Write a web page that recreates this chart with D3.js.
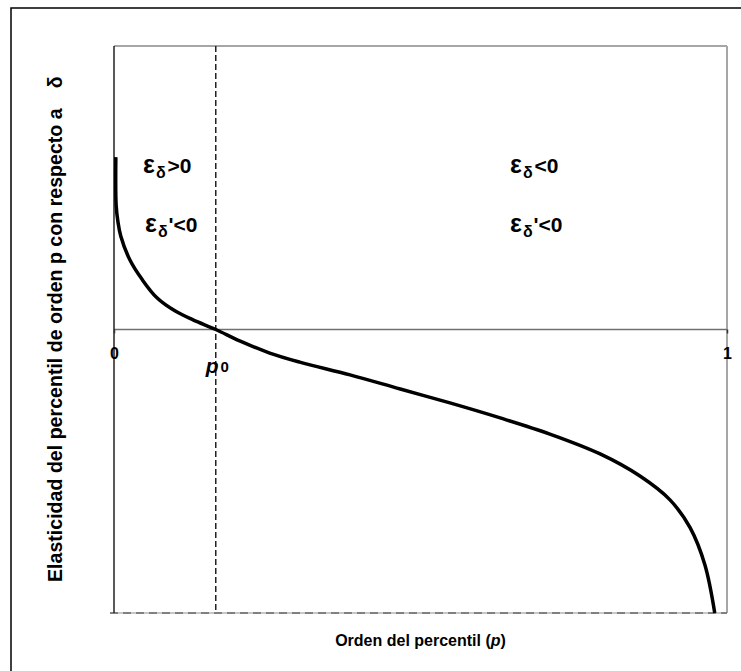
<!DOCTYPE html>
<html>
<head>
<meta charset="utf-8">
<script src="https://cdn.jsdelivr.net/npm/d3@7"></script>
<style>
  html, body { margin: 0; padding: 0; background: #fff; }
  svg { display: block; }
  text { font-family: "Liberation Sans", Arial, sans-serif; font-weight: bold; fill: #000; }
</style>
</head>
<body>
<svg id="chart" width="741" height="671"></svg>
<script>
// ---- data ----
const pValues = [0.003, 0.0035, 0.0065, 0.011, 0.026, 0.046, 0.070, 0.100, 0.129, 0.166,
                 0.206, 0.254, 0.303, 0.385, 0.467, 0.548, 0.630, 0.711, 0.793, 0.858,
                 0.907, 0.940, 0.964, 0.980];
const elasticity = [0.608, 0.439, 0.379, 0.330, 0.245, 0.176, 0.112, 0.065, 0.034, 0.0,
                    -0.041, -0.083, -0.115, -0.160, -0.210, -0.259, -0.312, -0.369, -0.439, -0.517,
                    -0.601, -0.700, -0.831, -1.0];
const p0 = 0.166;
const xTickValues = [0, 1];
const xTickLabels = ["0", "1"];
const yDomain = [-1, 1];

const svg = d3.select("#chart");
const mLeft = 114, mRight = 727, mTop = 46, mBottom = 613;

const x = d3.scaleLinear().domain([0, 1]).range([mLeft, mRight]);
const y = d3.scaleLinear().domain(yDomain).range([mBottom, mTop]);

// outer frame (right/bottom edges fall outside the window)
svg.append("rect").attr("x", 11).attr("y", 8).attr("width", 760).attr("height", 700)
  .attr("fill", "none").attr("stroke", "#000").attr("stroke-width", 1.5);

// plot area borders
svg.append("line").attr("x1", mLeft).attr("x2", mRight).attr("y1", mTop).attr("y2", mTop)
  .attr("stroke", "#a6a6a6").attr("stroke-width", 2);
svg.append("line").attr("x1", mRight).attr("x2", mRight).attr("y1", mTop).attr("y2", mBottom)
  .attr("stroke", "#a6a6a6").attr("stroke-width", 2);
// bottom dashed border
svg.append("line").attr("x1", mLeft - 4).attr("x2", mRight).attr("y1", mBottom).attr("y2", mBottom)
  .attr("stroke", "#c8c8c8").attr("stroke-width", 2);
svg.append("line").attr("x1", mLeft - 4).attr("x2", mRight).attr("y1", mBottom).attr("y2", mBottom)
  .attr("stroke", "#808080").attr("stroke-width", 2).attr("stroke-dasharray", "8,5");

// zero line
svg.append("line").attr("x1", mLeft).attr("x2", mRight).attr("y1", y(0)).attr("y2", y(0))
  .attr("stroke", "#707070").attr("stroke-width", 1.5);

// left axis line
svg.append("line").attr("x1", mLeft).attr("x2", mLeft).attr("y1", mTop).attr("y2", mBottom)
  .attr("stroke", "#222").attr("stroke-width", 1.5);

// p0 dashed line
svg.append("line").attr("x1", x(p0)).attr("x2", x(p0)).attr("y1", mTop).attr("y2", mBottom)
  .attr("stroke", "#222").attr("stroke-width", 1.5).attr("stroke-dasharray", "6,3");

// x axis tick labels via d3 axis
const xAxis = d3.axisBottom(x).tickValues(xTickValues)
  .tickFormat((d, i) => xTickLabels[i]).tickSize(4).tickPadding(14);
const gx = svg.append("g").attr("transform", `translate(0,${y(0)})`).call(xAxis)
  .attr("font-size", 16).attr("font-family", null);
gx.select(".domain").remove();
gx.selectAll(".tick line").attr("stroke", "#333").attr("stroke-width", 1.5);
gx.selectAll(".tick text").attr("font-size", 16).style("font-size", "16px").style("font-weight", "bold")
  .attr("fill", "#000");

// p0 label
const p0Label = svg.append("text").attr("x", x(p0) - 10).attr("y", 373).style("font-size", "21px");
p0Label.append("tspan").text("p").style("font-style", "italic");
p0Label.append("tspan").text("0").style("font-size", "15px").attr("dx", 2).attr("dy", -1);

// curve
const line = d3.line().x((d, i) => x(pValues[i])).y(d => y(d)).curve(d3.curveCatmullRom.alpha(0.5));
svg.append("path").datum(elasticity).attr("d", line)
  .attr("fill", "none").attr("stroke", "#000").attr("stroke-width", 3.5)
  .attr("stroke-linejoin", "round");

// region annotations
function epsLabel(px, py, prime, sign) {
  const t = svg.append("text").attr("x", px).attr("y", py).style("font-size", "21px");
  t.append("tspan").text("ε").style("font-size", "25px");
  t.append("tspan").text("δ").style("font-size", "16px").attr("dy", 5).attr("dx", 1);
  t.append("tspan").text((prime ? "'" : "") + sign + "0").attr("dy", -5).attr("dx", prime ? 1 : 2);
}
epsLabel(143, 173, false, ">");
epsLabel(145, 232, true, "<");
epsLabel(510, 173, false, "<");
epsLabel(510, 232, true, "<");

// axis titles
const xt = svg.append("text").attr("x", (mLeft + mRight) / 2).attr("y", 646)
  .attr("text-anchor", "middle").style("font-size", "16px");
xt.append("tspan").text("Orden del percentil (");
xt.append("tspan").text("p").style("font-style", "italic");
xt.append("tspan").text(")");

const yt = svg.append("text").attr("transform", "translate(62,582) rotate(-90)")
  .attr("text-anchor", "start").style("font-size", "19.6px");
yt.append("tspan").text("Elasticidad del percentil de orden p con respecto a");
yt.append("tspan").text("δ").attr("dx", 20);
</script>
</body>
</html>
